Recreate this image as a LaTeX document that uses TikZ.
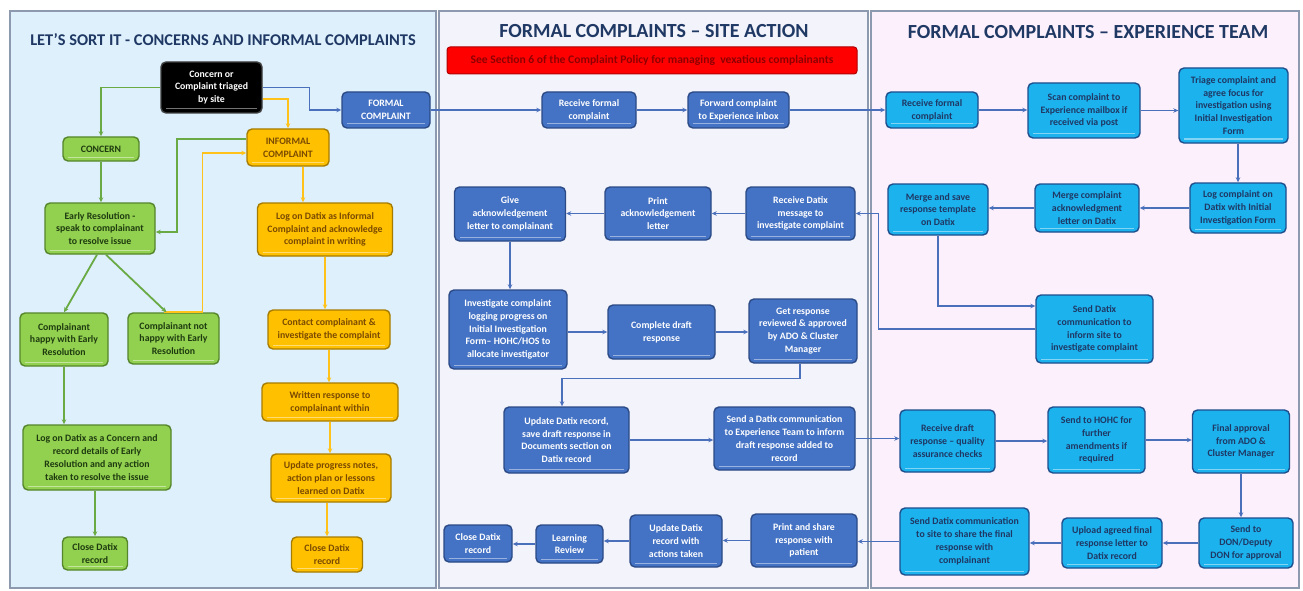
\documentclass[tikz,border=0pt]{standalone}
\usepackage{fontspec}
\setmainfont{Carlito}
\usetikzlibrary{arrows.meta,calc}

\definecolor{panelL}{HTML}{DDF0FC}
\definecolor{panelM}{HTML}{F2F3FB}
\definecolor{panelR}{HTML}{FBF0FB}
\definecolor{panelEdge}{HTML}{8D99AE}
\definecolor{titleNavy}{HTML}{1F3864}
\definecolor{grFill}{HTML}{92D050}
\definecolor{grEdge}{HTML}{55862B}
\definecolor{grText}{HTML}{1E3B0F}
\definecolor{grLine}{HTML}{6AAA45}
\definecolor{yeFill}{HTML}{FFC000}
\definecolor{yeEdge}{HTML}{A67C00}
\definecolor{yeText}{HTML}{7A4A00}
\definecolor{yeLine}{HTML}{FFC21A}
\definecolor{buFill}{HTML}{4472C4}
\definecolor{buEdge}{HTML}{2B4A86}
\definecolor{cyFill}{HTML}{1CB2EE}
\definecolor{cyEdge}{HTML}{1F4E8C}
\definecolor{cyText}{HTML}{1F3864}
\definecolor{buLine}{HTML}{4A70BC}
\definecolor{redFill}{HTML}{FF0000}
\definecolor{redEdge}{HTML}{B00000}
\definecolor{redText}{HTML}{8E0000}

\newcommand\boxfont{\bfseries\fontsize{9.8}{12.8}\selectfont}

\begin{document}
\begin{tikzpicture}[x=1pt,y=-1pt,
  sz/.style 2 args={minimum width=#1pt, minimum height=#2pt},
  box/.style={rounded corners=5pt, line width=1.4pt, align=center, inner sep=1pt, font=\boxfont,
    path picture={\draw[white, opacity=.45, line width=1pt]
      ($(path picture bounding box.south west)+(5,-4)$) -- ($(path picture bounding box.south east)+(-5,-4)$);}},
  kbox/.style={box, fill=black, draw=black!75, text=white},
  gbox/.style={box, fill=grFill, draw=grEdge, text=grText},
  ybox/.style={box, fill=yeFill, draw=yeEdge, text=yeText},
  bbox/.style={box, fill=buFill, draw=buEdge, text=white},
  cbox/.style={box, fill=cyFill, draw=cyEdge, text=cyText},
  panel/.style={draw=panelEdge, line width=1.4pt},
  title/.style={font=\bfseries\fontsize{20}{23}\selectfont, text=titleNavy},
  garrow/.style={draw=grLine, line width=1.8pt, -{Stealth[length=5pt,width=4.5pt]}},
  yarrow/.style={draw=yeLine, line width=1.8pt, -{Stealth[length=5pt,width=4.5pt]}},
  barrow/.style={draw=buLine, line width=1.4pt, -{Stealth[length=5pt,width=4.5pt]}},
]
\useasboundingbox (0,0) rectangle (1303,591);
\fill[white] (0,0) rectangle (1303,591);

% three swim-lane panels
\filldraw[panel, fill=panelL] (10,11) rectangle (436,588);
\filldraw[panel, fill=panelM] (439,11) rectangle (868,588);
\filldraw[panel, fill=panelR] (871,11) rectangle (1299,588);

\node[title, font=\bfseries\fontsize{16.4}{19}\selectfont] (tL) at (223,40) {LET’S SORT IT - CONCERNS AND INFORMAL COMPLAINTS};
\node[title] (tM) at (654,31) {FORMAL COMPLAINTS – SITE ACTION};
\node[title] (tR) at (1088,32) {FORMAL COMPLAINTS – EXPERIENCE TEAM};

\node[rounded corners=3pt, fill=redFill, draw=redEdge, line width=1pt, sz={410}{27},
  font=\bfseries\fontsize{11.6}{12}\selectfont, text=redText] (vex) at (652,60.5)
  {See Section 6 of the Complaint Policy for managing\ \ vexatious complainants};

% ---- concerns and informal complaints
\node[kbox, sz={101}{51}] (trig) at (211.5,87.5) {Concern or\\Complaint triaged\\by site};
\node[gbox, sz={76}{24}] (concern) at (101,149) {CONCERN};
\node[ybox, sz={82}{37}] (informal) at (288,147.5) {INFORMAL\\COMPLAINT};
\node[gbox, sz={110}{51}] (early) at (100,228.5) {Early Resolution -\\speak to complainant\\to resolve issue};
\node[ybox, sz={135}{53}] (loginf) at (325,229.5) {Log on Datix as Informal\\Complaint and acknowledge\\complaint in writing};
\node[gbox, sz={88}{53}] (happy) at (64,339.5) {Complainant\\happy with Early\\Resolution};
\node[gbox, sz={91}{51}] (nothappy) at (173.5,338.5) {Complainant not\\happy with Early\\Resolution};
\node[ybox, sz={122}{39}] (contact) at (329,329.5) {Contact complainant \&\\investigate the complaint};
\node[ybox, sz={136}{38}] (written) at (330,402) {Written response to\\complainant within};
\node[gbox, sz={148}{65}] (logcon) at (97,457.5) {Log on Datix as a Concern and\\record details of Early\\Resolution and any action\\taken to resolve the issue};
\node[ybox, sz={120}{48}] (update) at (331,478) {Update progress notes,\\action plan or lessons\\learned on Datix};
\node[gbox, sz={65}{33}] (closeg) at (95,553.5) {Close Datix\\record};
\node[ybox, sz={71}{35}] (closey) at (327,554.5) {Close Datix\\record};
\node[bbox, sz={88}{36}] (formal) at (386,110) {FORMAL\\COMPLAINT};

% ---- site action
\node[bbox, sz={94}{36}] (recv1) at (589,110) {Receive formal\\complaint};
\node[bbox, sz={101}{36}] (fwd) at (738.5,110) {Forward complaint\\to Experience inbox};
\node[bbox, sz={111}{54}] (give) at (510,214) {Give\\acknowledgement\\letter to complainant};
\node[bbox, sz={106}{53}] (print) at (658,213.5) {Print\\acknowledgement\\letter};
\node[bbox, sz={109}{53}] (rdatix) at (800.5,213.5) {Receive Datix\\message to\\investigate complaint};
\node[bbox, sz={118}{79}] (invest) at (508,329.5) {Investigate complaint\\logging progress on\\Initial Investigation\\Form– HOHC/HOS to\\allocate investigator};
\node[bbox, sz={107}{54}] (draft) at (661.5,332) {Complete draft\\response};
\node[bbox, sz={108}{64}] (review) at (803,331) {Get response\\reviewed \& approved\\by ADO \& Cluster\\Manager};
\node[bbox, sz={125}{66}] (upd) at (566.5,440) {Update Datix record,\\save draft response in\\Documents section on\\Datix record};
\node[bbox, sz={141}{63}] (sendexp) at (784.5,438.5) {Send a Datix communication\\to Experience Team to inform\\draft response added to\\record};
\node[bbox, sz={68}{37}] (closeb) at (478,543.5) {Close Datix\\record};
\node[bbox, sz={67}{38}] (learn) at (569.5,544) {Learning\\Review};
\node[bbox, sz={92}{52}] (updact) at (676,541) {Update Datix\\record with\\actions taken};
\node[bbox, sz={106}{53}] (printshare) at (804,540.5) {Print and share\\response with\\patient};

% ---- experience team
\node[cbox, sz={92}{36}] (recv2) at (932,110) {Receive formal\\complaint};
\node[cbox, sz={112}{55}] (scan) at (1084,110.5) {Scan complaint to\\Experience mailbox if\\received via post};
\node[cbox, sz={109}{75}] (triage) at (1233.5,105.5) {Triage complaint and\\agree focus for\\investigation using\\Initial Investigation\\Form};
\node[cbox, sz={96}{50}] (logc) at (1238,208) {Log complaint on\\Datix with Initial\\Investigation Form};
\node[cbox, sz={104}{48}] (mergeack) at (1087,208) {Merge complaint\\acknowledgment\\letter on Datix};
\node[cbox, sz={100}{51}] (mergesave) at (938,209.5) {Merge and save\\response template\\on Datix};
\node[cbox, sz={117}{68}] (sendinf) at (1094.5,329) {Send Datix\\communication to\\inform site to\\investigate complaint};
\node[cbox, sz={95}{62}] (rdraft) at (947.5,441) {Receive draft\\response – quality\\assurance checks};
\node[cbox, sz={97}{66}] (hohc) at (1096.5,440) {Send to HOHC for\\further\\amendments if\\required};
\node[cbox, sz={97}{63}] (final) at (1241,441.5) {Final approval\\from ADO \&\\Cluster Manager};
\node[cbox, sz={94}{50}] (don) at (1246,543) {Send to\\DON/Deputy\\DON for approval};
\node[cbox, sz={100}{50}] (upload) at (1112,543) {Upload agreed final\\response letter to\\Datix record};
\node[cbox, sz={129}{67}] (sendsite) at (964.5,541.5) {Send Datix communication\\to site to share the final\\response with\\complainant};

% ---- connectors: concerns and informal complaints
\draw[garrow] (trig.west) -| (concern.north);
\draw[yarrow] ($(trig.east)+(0,11.5)$) -| (informal.north);
\draw[barrow] (trig.east) -- ++(47,0) |- (formal.west);
\draw[garrow] ($(informal.west)+(0,-8.5)$) -- ++(-69,0) |- ($(early.east)+(0,3.5)$);
\draw[yarrow] ($(nothappy.north)+(-10,0)$) -- ++(39,0) |- ($(informal.west)+(0,5.5)$);
\draw[garrow] (concern.south) -- (concern.south |- early.north);
\draw[garrow] ($(early.south)+(-3,0)$) -- (happy.north);
\draw[garrow] ($(early.south)+(6,0)$) -- ($(nothappy.north)+(-7,0)$);
\draw[garrow] (happy.south) -- (happy.south |- logcon.north);
\draw[garrow] (closeg.north |- logcon.south) -- (closeg.north);
\draw[yarrow] ($(informal.south)+(15,0)$) coordinate (isd) -- (isd |- loginf.north);
\draw[yarrow] (loginf.south) -- (loginf.south |- contact.north);
\draw[yarrow] (contact.south) -- (contact.south |- written.north);
\draw[yarrow] (written.south) -- (written.south |- update.north);
\draw[yarrow] (closey.north |- update.south) -- (closey.north);

% ---- connectors: formal complaints
\draw[barrow] (formal.east) -- (recv1.west);
\draw[barrow] (recv1.east) -- (fwd.west);
\draw[barrow] (fwd.east) -- (recv2.west);
\draw[barrow] (recv2.east) -- (scan.west |- recv2.east);
\draw[barrow] (scan.east) -- (triage.west |- scan.east);
\draw[barrow] (logc.north |- triage.south) -- (logc.north);
\draw[barrow] (logc.west) -- (mergeack.east |- logc.west);
\draw[barrow] (mergeack.west) -- (mergesave.east |- mergeack.west);
\draw[barrow] (mergesave.south) |- ($(sendinf.west)+(0,-23)$);
\draw[barrow] (sendinf.west) -- ++(-157,0) |- (rdatix.east);
\draw[barrow] (rdatix.west) -- (print.east |- rdatix.west);
\draw[barrow] (print.west) -- (give.east |- print.west);
\draw[barrow] (give.south) -- (give.south |- invest.north);
\draw[barrow] (invest.east |- draft.west) -- (draft.west);
\draw[barrow] (draft.east) -- (review.west |- draft.east);
\draw[barrow] ($(review.south)+(-3,0)$) -- ++(0,15) -| ($(upd.north)+(-4.5,0)$);
\draw[barrow] (upd.east) -- (sendexp.west |- upd.east);
\draw[barrow] (sendexp.east) -- (rdraft.west |- sendexp.east);
\draw[barrow] (rdraft.east) -- (hohc.west |- rdraft.east);
\draw[barrow] (hohc.east) -- (final.west |- hohc.east);
\draw[barrow] (final.south) -- (final.south |- don.north);
\draw[barrow] (don.west) -- (upload.east |- don.west);
\draw[barrow] (upload.west) -- (sendsite.east |- upload.west);
\draw[barrow] (sendsite.west) -- (printshare.east |- sendsite.west);
\draw[barrow] (printshare.west) -- (updact.east |- printshare.west);
\draw[barrow] (updact.west) -- (learn.east |- updact.west);
\draw[barrow] (learn.west) -- (closeb.east |- learn.west);
\end{tikzpicture}
\end{document}
